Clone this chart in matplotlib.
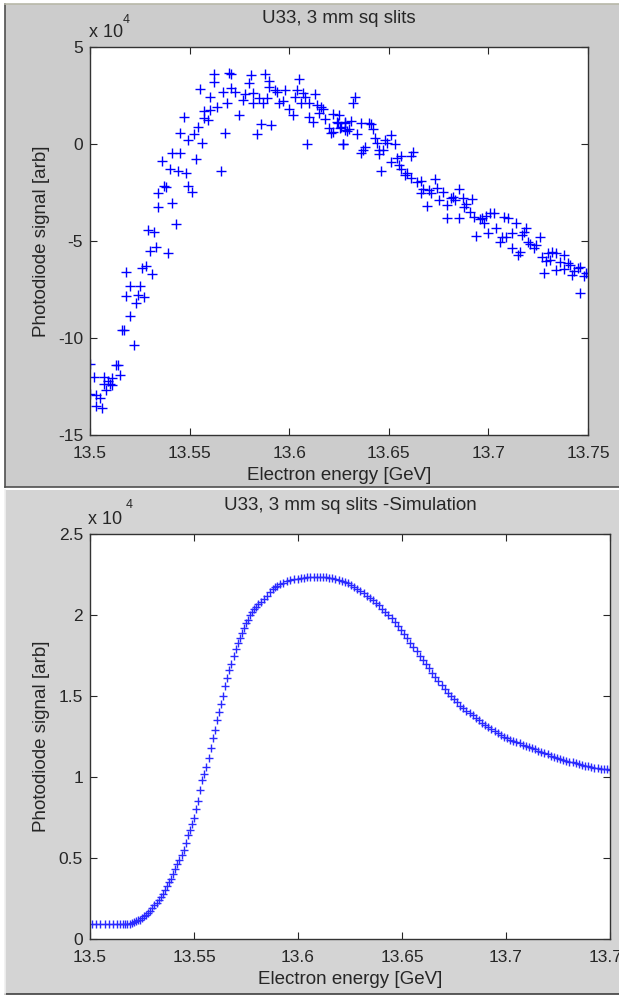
import matplotlib
matplotlib.use("Agg")
import matplotlib.pyplot as plt
from matplotlib.patches import Rectangle
from matplotlib.lines import Line2D

plt.rcParams['font.family'] = ['Liberation Sans', 'DejaVu Sans']

# Messung: Energie [GeV] und Photodiodensignal (Einheit 1e4 arb)
mess_e = [13.500, 13.502, 13.500, 13.503, 13.505, 13.503, 13.506, 13.507, 13.507, 13.509,
          13.508, 13.510, 13.511, 13.511, 13.513, 13.514, 13.515, 13.516, 13.517, 13.522,
          13.520, 13.523, 13.518, 13.524, 13.527, 13.520, 13.525, 13.518, 13.526, 13.528,
          13.531, 13.530, 13.539, 13.533, 13.529, 13.532, 13.543, 13.534, 13.541, 13.534,
          13.537, 13.538, 13.549, 13.551, 13.536, 13.540, 13.544, 13.548, 13.541, 13.545,
          13.553, 13.566, 13.556, 13.545, 13.549, 13.552, 13.554, 13.547, 13.557, 13.559,
          13.557, 13.560, 13.564, 13.568, 13.569, 13.555, 13.560, 13.567, 13.571, 13.573,
          13.575, 13.577, 13.578, 13.562, 13.562, 13.570, 13.571, 13.580, 13.581, 13.582,
          13.582, 13.584, 13.585, 13.586, 13.587, 13.588, 13.589, 13.590, 13.590, 13.591,
          13.593, 13.594, 13.595, 13.597, 13.598, 13.600, 13.602, 13.603, 13.605, 13.604,
          13.606, 13.607, 13.608, 13.609, 13.610, 13.610, 13.612, 13.613, 13.614, 13.615,
          13.616, 13.617, 13.618, 13.620, 13.621, 13.622, 13.624, 13.625, 13.626, 13.627,
          13.628, 13.628, 13.630, 13.631, 13.632, 13.633, 13.634, 13.636,
          13.6245, 13.628, 13.6255, 13.629, 13.622, 13.627, 13.636, 13.640, 13.641, 13.642,
          13.643, 13.644, 13.651, 13.648, 13.649, 13.653, 13.638, 13.637, 13.645, 13.645,
          13.647, 13.646, 13.651, 13.654, 13.655, 13.656, 13.661, 13.662, 13.656, 13.658,
          13.659, 13.661, 13.664, 13.666, 13.667, 13.666, 13.670, 13.669, 13.671, 13.673,
          13.674, 13.675, 13.677, 13.679, 13.679, 13.681, 13.682, 13.683, 13.685, 13.685,
          13.687, 13.688, 13.689, 13.691, 13.692, 13.694, 13.693, 13.696, 13.697, 13.698,
          13.699, 13.700, 13.701, 13.703, 13.704, 13.706, 13.707, 13.708, 13.710, 13.709,
          13.712, 13.712, 13.714, 13.715, 13.716, 13.717, 13.718, 13.719, 13.720, 13.721,
          13.723, 13.724, 13.726, 13.727, 13.728, 13.729, 13.730, 13.731, 13.732, 13.734,
          13.734, 13.736, 13.738, 13.738, 13.740, 13.741, 13.742, 13.743, 13.745, 13.746,
          13.746, 13.748, 13.749, 13.750]
mess_s = [-11.36, -12.0, -12.9, -12.95, -13.1, -13.5, -13.6, -12.0, -12.35, -12.2,
          -12.7, -12.35, -12.05, -12.4, -11.4, -11.4, -11.9, -9.6, -9.6, -10.35,
          -8.87, -8.2, -7.84, -7.8, -7.87, -7.3, -7.3, -6.58, -6.38, -6.29,
          -6.7, -5.5, -5.6, -5.33, -4.43, -4.54, -4.14, -3.26, -3.03, -2.54,
          -2.17, -2.2, -2.17, -2.46, -0.88, -1.3, -1.39, -1.48, -0.48, -0.48,
          -0.76, -1.38, 0.04, 0.55, 0.21, 0.52, 0.9, 1.41, 1.33, 1.24,
          1.72, 1.75, 1.92, 0.58, 2.13, 2.82, 2.44, 2.7, 2.9, 2.7,
          1.5, 2.27, 2.6, 3.6, 3.21, 3.68, 3.6, 3.13, 3.56, 2.65,
          2.13, 0.52, 2.35, 1.03, 2.1, 3.59, 2.35, 3.25, 2.95, 1.0,
          2.78, 2.7, 2.1, 2.22, 2.78, 1.79, 1.5, 2.41, 3.33, 2.78,
          2.1, 2.65, 2.44, -0.02, 2.1, 1.41, 1.15, 2.6, 2.0, 1.58,
          1.89, 1.79, 1.27, 0.81, 0.58, 1.55, 1.15, 1.5, 0.86, -0.02,
          1.15, 0.72, 0.79, 1.2, 2.1, 2.44, 0.52, -0.45,
          1.07, 1.07, 0.81, 0.67, 0.63, 0.0, 1.07, 1.1, 1.03, 0.76,
          0.29, 0.07, 0.46, 0.21, 0.04, 0.0, -0.14, -0.31, -0.31, -0.53,
          -0.31, -1.39, -0.91, -0.74, -1.08, -0.62, -0.62, -0.4, -1.3, -1.6,
          -1.51, -1.74, -1.94, -1.91, -2.34, -2.54, -2.37, -3.2, -2.54, -1.79,
          -2.28, -2.89, -2.46, -3.83, -3.14, -2.8, -2.72, -2.89, -2.34, -3.83,
          -2.8, -3.23, -3.09, -3.49, -2.85, -4.74, -3.74, -3.88, -3.83, -4.09,
          -3.71, -4.57, -3.57, -3.54, -4.35, -5.04, -4.78, -3.74, -3.83, -4.78,
          -4.57, -5.35, -4.09, -5.72, -5.55, -4.69, -4.52, -4.35, -5.04, -5.15,
          -5.38, -5.21, -4.78, -5.81, -6.63, -6.05, -5.63, -6.0, -5.55, -6.49,
          -5.6, -6.07, -5.72, -6.46, -6.15, -6.24, -6.76, -6.53, -6.4, -6.32,
          -7.66, -6.8, -6.63, -6.66]

# Simulation: Energie [GeV] und Signal (Einheit 1e4 arb)
sim_e = [13.501, 13.503, 13.505, 13.507, 13.509, 13.511, 13.513, 13.5145, 13.516, 13.517,
         13.518, 13.519, 13.520, 13.521, 13.522, 13.523, 13.524, 13.525, 13.526, 13.527,
         13.528, 13.529, 13.530, 13.531, 13.532, 13.533, 13.534, 13.535, 13.536, 13.537,
         13.538, 13.539, 13.540, 13.541, 13.542, 13.543, 13.544, 13.545, 13.546, 13.547,
         13.548, 13.549, 13.550, 13.551, 13.552, 13.553, 13.554, 13.555, 13.556, 13.557,
         13.558, 13.559, 13.560, 13.561, 13.562, 13.563, 13.564, 13.565, 13.566, 13.567,
         13.568, 13.569, 13.570, 13.571, 13.572, 13.573, 13.574, 13.575, 13.576, 13.577,
         13.578, 13.579, 13.580, 13.581, 13.582, 13.5835, 13.585, 13.5865, 13.588, 13.589,
         13.590, 13.5915, 13.593, 13.5945, 13.596, 13.598, 13.600, 13.6015, 13.603, 13.6045,
         13.606, 13.6075, 13.609, 13.6105, 13.612, 13.6135, 13.615, 13.6165, 13.618, 13.6195,
         13.621, 13.6225, 13.624, 13.6255, 13.627, 13.6285, 13.630, 13.6315, 13.633, 13.6345,
         13.636, 13.6375, 13.639, 13.6405, 13.642, 13.6435, 13.645, 13.6465, 13.648, 13.6495,
         13.651, 13.6525, 13.654, 13.6555, 13.657, 13.6585, 13.660, 13.6615, 13.663, 13.6645,
         13.666, 13.6675, 13.669, 13.6705, 13.672, 13.6735, 13.675, 13.6765, 13.678, 13.6795,
         13.681, 13.6825, 13.684, 13.6855, 13.687, 13.6885, 13.690, 13.6915, 13.693, 13.6945,
         13.696, 13.6975, 13.699, 13.7005, 13.702, 13.7035, 13.705, 13.7065, 13.708, 13.7095,
         13.711, 13.7125, 13.714, 13.7155, 13.717, 13.7185, 13.720, 13.7215, 13.723, 13.7245,
         13.726, 13.7275, 13.729, 13.7305, 13.732, 13.7335, 13.735, 13.7365, 13.738, 13.7395,
         13.741, 13.7425, 13.744, 13.7455, 13.747, 13.7485, 13.750]
sim_s = [0.09, 0.09, 0.09, 0.09, 0.09, 0.09, 0.09, 0.09, 0.09, 0.09,
         0.09, 0.095, 0.10, 0.105, 0.11, 0.115, 0.12, 0.13, 0.14, 0.15,
         0.16, 0.175, 0.19, 0.21, 0.225, 0.24, 0.26, 0.28, 0.30, 0.33,
         0.35, 0.37, 0.40, 0.43, 0.46, 0.49, 0.52, 0.55, 0.59, 0.64,
         0.67, 0.71, 0.75, 0.80, 0.85, 0.92, 0.98, 1.02, 1.06, 1.12,
         1.18, 1.24, 1.29, 1.35, 1.40, 1.45, 1.50, 1.56, 1.61, 1.66,
         1.70, 1.75, 1.79, 1.83, 1.86, 1.89, 1.92, 1.95, 1.97, 2.00,
         2.02, 2.035, 2.05, 2.065, 2.08, 2.10, 2.12, 2.14, 2.16, 2.17,
         2.18, 2.19, 2.20, 2.21, 2.215, 2.22, 2.225, 2.228, 2.23, 2.232,
         2.235, 2.235, 2.235, 2.235, 2.235, 2.233, 2.23, 2.228, 2.225, 2.218,
         2.21, 2.203, 2.195, 2.183, 2.17, 2.16, 2.15, 2.135, 2.12, 2.105,
         2.09, 2.075, 2.06, 2.04, 2.02, 2.00, 1.98, 1.955, 1.93, 1.905,
         1.88, 1.855, 1.83, 1.805, 1.78, 1.75, 1.72, 1.695, 1.67, 1.645,
         1.62, 1.595, 1.57, 1.545, 1.52, 1.50, 1.48, 1.46, 1.44, 1.425,
         1.41, 1.395, 1.38, 1.365, 1.35, 1.335, 1.32, 1.308, 1.295, 1.283,
         1.27, 1.26, 1.25, 1.24, 1.23, 1.222, 1.215, 1.207, 1.20, 1.192,
         1.185, 1.177, 1.17, 1.162, 1.155, 1.147, 1.14, 1.132, 1.125, 1.117,
         1.11, 1.105, 1.10, 1.095, 1.09, 1.085, 1.08, 1.075, 1.07, 1.065,
         1.06, 1.058, 1.055, 1.052, 1.05, 1.047, 1.045]

e_ticks = [13.5, 13.55, 13.6, 13.65, 13.7, 13.75]
e_labels = ['13.5', '13.55', '13.6', '13.65', '13.7', '13.75']
mess_yticks = [-15, -10, -5, 0, 5]
sim_yticks = [0, 0.5, 1, 1.5, 2, 2.5]
sim_ylabels = ['0', '0.5', '1', '1.5', '2', '2.5']

W, H = 619, 996
fig = plt.figure(figsize=(W / 100, H / 100), dpi=100)
fig.patch.set_facecolor('white')

# graue Fensterflaechen im Matlab-Stil (hinter den Achsen)
fig.patches.append(Rectangle((5 / W, 1 - 487 / H), 1, 483 / H, transform=fig.transFigure,
                             facecolor='#cccccc', edgecolor='none', zorder=-5))
fig.patches.append(Rectangle((5 / W, 1 - 994 / H), 1, 504 / H, transform=fig.transFigure,
                             facecolor='#d4d4d4', edgecolor='none', zorder=-5))
for (x0, y0, x1, y1, c) in [(5, 4, 5, 487, '#505050'), (5, 487, W, 487, '#505050'),
                            (5, 4, W, 4, '#b8b8a8'), (5, 994, W, 994, '#404040'),
                            (5, 490, 5, 994, '#f0f0f0')]:
    fig.lines.append(Line2D([x0 / W, x1 / W], [1 - y0 / H, 1 - y1 / H],
                            transform=fig.transFigure, color=c, lw=1.2, zorder=-4))

txt = '#262626'


def setup(ax, yticks, ylabels, ylim, title, top_px, bot_px, wpx):
    ax.set_xlim(13.5, 13.75)
    ax.set_ylim(*ylim)
    ax.set_xticks(e_ticks)
    ax.set_xticklabels(e_labels)
    ax.set_yticks(yticks)
    ax.set_yticklabels(ylabels)
    ax.tick_params(direction='in', length=5, width=0.8, top=True, right=True,
                   labelsize=12.5, colors=txt)
    ax.tick_params(axis='x', pad=8)
    ax.tick_params(axis='y', pad=5)
    for s in ax.spines.values():
        s.set_color('#333333')
        s.set_linewidth(1.0)
    hpx = bot_px - top_px
    ax.set_xlabel('Electron energy [GeV]', fontsize=13.5, color=txt)
    ax.xaxis.set_label_coords(0.5, -(32 / hpx))
    ax.set_ylabel('Photodiode signal [arb]', fontsize=13.5, color=txt)
    ax.yaxis.set_label_coords(-(40 / wpx), 0.5)
    ax.text(0.5, 1 + 28 / hpx, title, transform=ax.transAxes, ha='center', va='center',
            fontsize=13.5, color=txt)
    ax.text(-0.003, 1 + 14 / hpx, 'x 10', transform=ax.transAxes, ha='left', va='center',
            fontsize=13, color=txt)


ax1 = fig.add_axes([90 / W, 1 - 435 / H, 498 / W, 388 / H])
ax1.plot(mess_e, mess_s, '+', color='#0000ff', markersize=6.5, mew=1.0, ls='none')
setup(ax1, mess_yticks, [str(v) for v in mess_yticks], (-15, 5),
      'U33, 3 mm sq slits', 47, 435, 498)
ax1.text(0.066, 1 + 27 / 388, '4', transform=ax1.transAxes, ha='left', va='center',
         fontsize=9, color=txt)

ax2 = fig.add_axes([90 / W, 1 - 939 / H, 520 / W, 405 / H])
ax2.plot(sim_e, sim_s, '+', color='#2a2aff', markersize=5.5, mew=1.0, ls='none')
setup(ax2, sim_yticks, sim_ylabels, (0, 2.5),
      'U33, 3 mm sq slits -Simulation', 534, 939, 520)
ax2.text(0.068, 1 + 29 / 405, '4', transform=ax2.transAxes, ha='left', va='center',
         fontsize=9, color=txt)

fig.savefig('out.png', dpi=100)
